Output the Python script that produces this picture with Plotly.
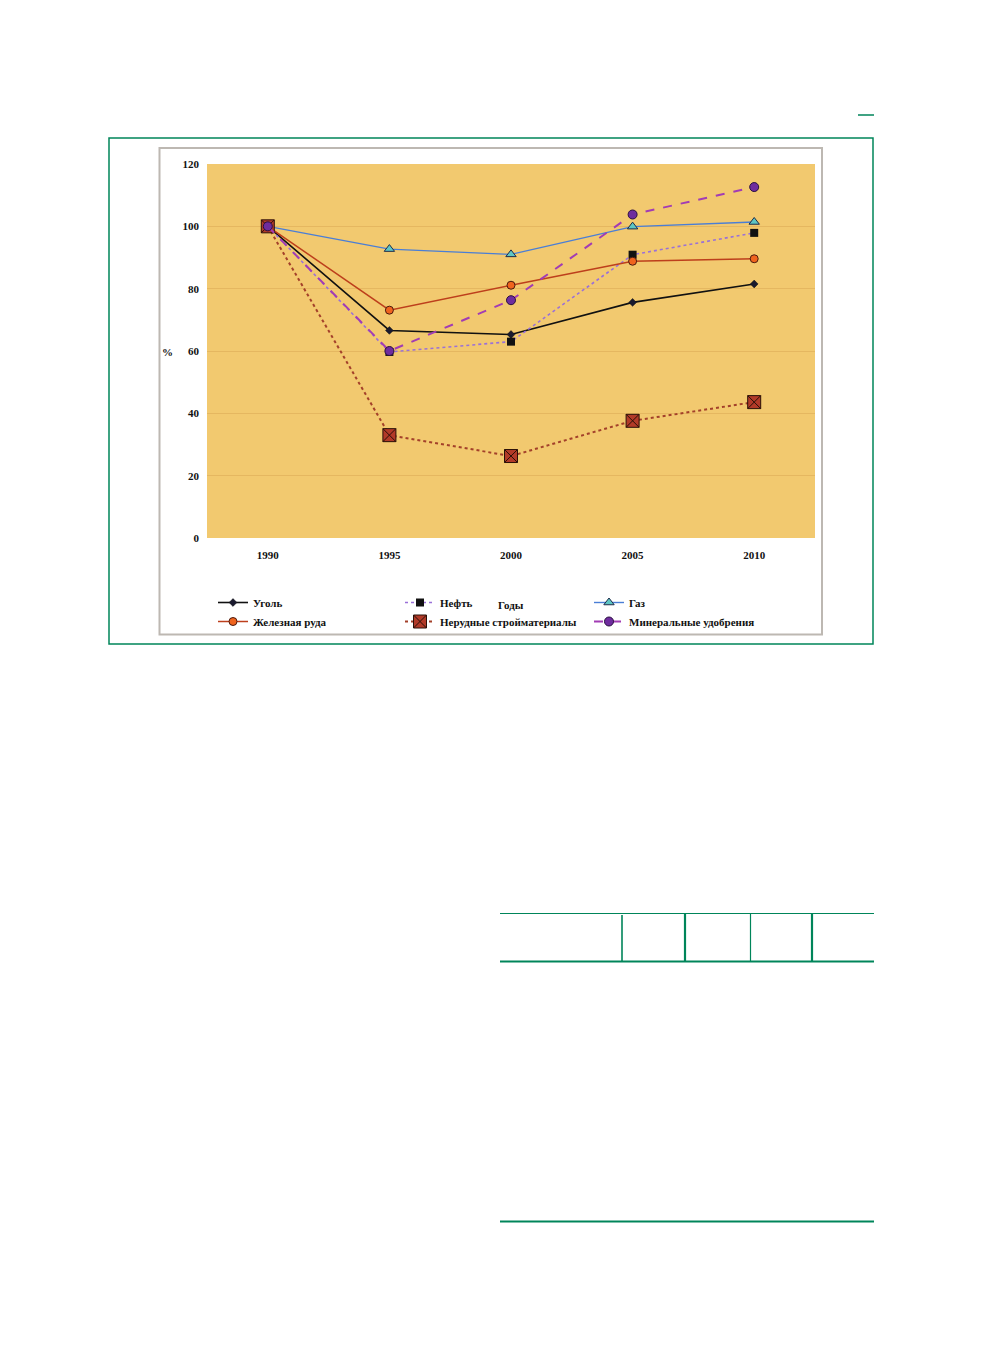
import plotly.graph_objects as go

# ---- data ----
years = ["1990", "1995", "2000", "2005", "2010"]
coal = [100, 66.6, 65.3, 75.6, 81.5]          # Уголь
oil = [100, 59.7, 63.0, 90.9, 97.9]           # Нефть
gas = [100, 92.7, 91.0, 99.9, 101.4]          # Газ
iron_ore = [100, 73.1, 81.1, 88.8, 89.6]      # Железная руда
nonmetal = [100, 33.0, 26.3, 37.6, 43.6]      # Нерудные стройматериалы
fertilizer = [100, 60.0, 76.3, 103.8, 112.6]  # Минеральные удобрения
y_ticks = [0, 20, 40, 60, 80, 100, 120]

W, H = 986, 1352
OFF = 8  # default page body margin
L, R, T, B = 207, 815, 164, 538
FW, FH = W - 2 * OFF, H - 2 * OFF


def px(x):
    return (x - L) / (R - L)


def py(y):
    return (B - y) / (B - T)


FONT = "Liberation Serif"
GREEN = "#00855A"
xs = list(range(len(years)))

fig = go.Figure()
fig.add_trace(go.Scatter(
    x=xs, y=coal, name="Уголь", mode="lines+markers",
    line=dict(color="#111111", width=1.6),
    marker=dict(symbol="diamond", size=6, color="#1a1a2e", line=dict(color="#111", width=0.5)),
    legend="legend"))
fig.add_trace(go.Scatter(
    x=xs, y=oil, name="Нефть", mode="lines+markers",
    line=dict(color="#9A70D8", width=1.6, dash="dot"),
    marker=dict(symbol="square", size=8, color="#111111"),
    legend="legend2"))
fig.add_trace(go.Scatter(
    x=xs, y=gas, name="Газ", mode="lines+markers",
    line=dict(color="#4A7ED6", width=1.4),
    marker=dict(symbol="triangle-up", size=9, color="#5EC6C4", line=dict(color="#1d2b4a", width=1)),
    legend="legend3"))
fig.add_trace(go.Scatter(
    x=xs, y=iron_ore, name="Железная руда", mode="lines+markers",
    line=dict(color="#BD3F1C", width=1.5),
    marker=dict(symbol="circle", size=8, color="#F0641E", line=dict(color="#4a1a10", width=1)),
    legend="legend"))
fig.add_trace(go.Scatter(
    x=xs, y=nonmetal, name="Нерудные стройматериалы", mode="lines+markers",
    line=dict(color="#A3402A", width=2, dash="dot"),
    marker=dict(symbol="square-x", size=13, color="#B23A28", line=dict(color="#2a1008", width=1)),
    legend="legend2"))
fig.add_trace(go.Scatter(
    x=xs, y=fertilizer, name="Минеральные удобрения", mode="lines+markers",
    line=dict(color="#A23CB4", width=2, dash="dash"),
    marker=dict(symbol="circle", size=9, color="#6F2C9E", line=dict(color="#2a1040", width=1)),
    legend="legend3"))

tickfont = dict(family=FONT, size=11, color="#111", weight="bold")
legfont = dict(family=FONT, size=11, color="#111", weight="bold")

LEG_TOP = 588
fig.update_layout(
    width=FW, height=FH,
    margin=dict(l=L - OFF, r=FW - (R - OFF), t=T - OFF, b=FH - (B - OFF), pad=0),
    paper_bgcolor="white",
    plot_bgcolor="#F2C96F",
    hovermode=False,
    xaxis=dict(
        tickmode="array", tickvals=xs, ticktext=years,
        range=[-0.5, len(years) - 0.5],
        showgrid=False, zeroline=False, showline=False,
        tickfont=tickfont, ticks="", ticklabelstandoff=9,
    ),
    yaxis=dict(
        range=[0, 120], tickvals=y_ticks,
        showgrid=True, gridcolor="rgba(205,150,70,0.35)", gridwidth=1,
        zeroline=False, showline=False,
        tickfont=tickfont, ticks="", ticklabelstandoff=7,
    ),
    legend=dict(x=px(213), y=py(LEG_TOP), xanchor="left", yanchor="top",
                orientation="v", font=legfont, bgcolor="rgba(0,0,0,0)",
                tracegroupgap=0, itemwidth=30),
    legend2=dict(x=px(400), y=py(LEG_TOP), xanchor="left", yanchor="top",
                 orientation="v", font=legfont, bgcolor="rgba(0,0,0,0)",
                 tracegroupgap=0, itemwidth=30),
    legend3=dict(x=px(589), y=py(LEG_TOP), xanchor="left", yanchor="top",
                 orientation="v", font=legfont, bgcolor="rgba(0,0,0,0)",
                 tracegroupgap=0, itemwidth=30),
    showlegend=True,
)

fig.add_annotation(text="%", x=px(167), y=py(352), xref="paper", yref="paper",
                   showarrow=False, font=tickfont, xanchor="center", yanchor="middle")
fig.add_annotation(text="Годы", x=px(511), y=py(605), xref="paper", yref="paper",
                   showarrow=False, font=tickfont, xanchor="center", yanchor="middle")

# frames and page decorations
shapes = [
    dict(type="rect", x0=px(109), x1=px(873), y0=py(138), y1=py(644), line=dict(color=GREEN, width=1.5)),
    dict(type="rect", x0=px(159.5), x1=px(822), y0=py(148), y1=py(634.5), line=dict(color="#BDB8B2", width=2)),
    dict(type="line", x0=px(858), x1=px(874), y0=py(115), y1=py(115), line=dict(color=GREEN, width=1.5)),
    dict(type="line", x0=px(500), x1=px(874), y0=py(913.5), y1=py(913.5), line=dict(color=GREEN, width=1.2)),
    dict(type="line", x0=px(500), x1=px(874), y0=py(961.5), y1=py(961.5), line=dict(color=GREEN, width=2.2)),
    dict(type="line", x0=px(622), x1=px(622), y0=py(915), y1=py(961), line=dict(color=GREEN, width=1.6)),
    dict(type="line", x0=px(685), x1=px(685), y0=py(913), y1=py(961), line=dict(color=GREEN, width=2.2)),
    dict(type="line", x0=px(750.5), x1=px(750.5), y0=py(913), y1=py(961), line=dict(color=GREEN, width=1.2)),
    dict(type="line", x0=px(812), x1=px(812), y0=py(913), y1=py(961), line=dict(color=GREEN, width=2.2)),
    dict(type="line", x0=px(500), x1=px(874), y0=py(1221.5), y1=py(1221.5), line=dict(color=GREEN, width=2)),
]
for s in shapes:
    s.update(xref="paper", yref="paper")
fig.update_layout(shapes=shapes)

fig.write_html("out.html")
